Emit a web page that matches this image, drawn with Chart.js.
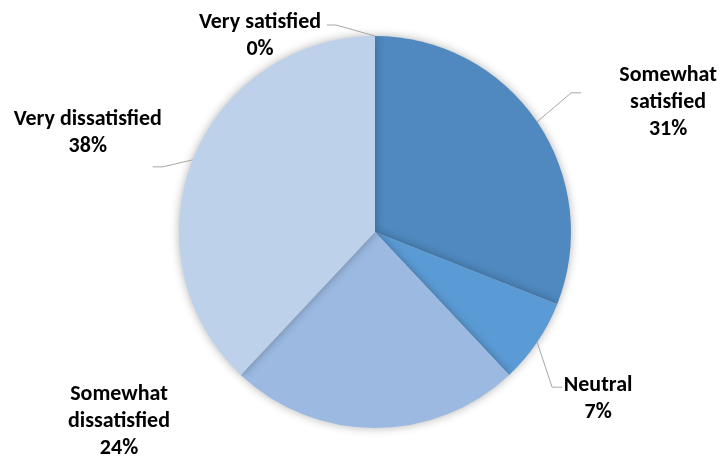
<!DOCTYPE html>
<html>
<head>
<meta charset="utf-8">
<script src="https://cdn.jsdelivr.net/npm/chart.js@4"></script>
<style>
  html, body { margin: 0; padding: 0; background: #fff; }
  #wrap { width: 721px; height: 456px; position: relative; }
</style>
</head>
<body>
<div id="wrap"><canvas id="grafico" width="721" height="456"></canvas></div>
<script>
// Dados
var categorias = ['Very satisfied', 'Somewhat satisfied', 'Neutral', 'Somewhat dissatisfied', 'Very dissatisfied'];
var percentagens = [0, 31, 7, 24, 38];
var cores = ['#3F6FA0', '#4F89BF', '#5B9BD5', '#9BB9E1', '#BDD1EA'];

// Rótulos (quebra de linha) e posição relativa ao ponto na borda da fatia
var linhasRotulo = [
    ['Very satisfied'],
    ['Somewhat', 'satisfied'],
    ['Neutral'],
    ['Somewhat', 'dissatisfied'],
    ['Very dissatisfied']
];
// cotovelo, fim da linha guia e centro da 1a linha do texto (dx, dy) a partir da borda
var guias = [
    { cotovelo: [-39, -11], fim: [-48, -11], texto: [-115, -14], linha: true },
    { cotovelo: [34, -29], fim: [44, -29], texto: [131, -46], linha: true },
    { cotovelo: [15, 45], fim: [25, 45], texto: [61, 43], linha: true },
    { cotovelo: [0, 0], fim: [0, 0], texto: [-256, -34], linha: false },
    { cotovelo: [-30, 7], fim: [-40, 7], texto: [-105, -40], linha: true }
];

var rotulosPlugin = {
    id: 'rotulos',
    afterDatasetsDraw: function(chart) {
        var ctx = chart.ctx;
        var meta = chart.getDatasetMeta(0);
        ctx.save();
        ctx.font = 'bold 22px Carlito, Lato, "Open Sans", sans-serif';
        ctx.textAlign = 'center';
        ctx.textBaseline = 'middle';
        meta.data.forEach(function(arc, i) {
            var p = arc.getProps(['x', 'y', 'startAngle', 'endAngle', 'outerRadius'], true);
            var meio = (p.startAngle + p.endAngle) / 2;
            var bx = p.x + Math.cos(meio) * p.outerRadius;
            var by = p.y + Math.sin(meio) * p.outerRadius;
            var g = guias[i];
            if (g.linha) {
                ctx.strokeStyle = '#A6A6A6';
                ctx.lineWidth = 1;
                ctx.beginPath();
                ctx.moveTo(bx, by);
                ctx.lineTo(bx + g.cotovelo[0], by + g.cotovelo[1]);
                ctx.lineTo(bx + g.fim[0], by + g.fim[1]);
                ctx.stroke();
            }
            var linhas = linhasRotulo[i].concat([percentagens[i] + '%']);
            var tx = bx + g.texto[0];
            var ty = by + g.texto[1];
            var alt = 27;
            ctx.fillStyle = '#000';
            linhas.forEach(function(l, k) {
                ctx.fillText(l, tx, ty + k * alt);
            });
        });
        ctx.restore();
    }
};

var sombraPlugin = {
    id: 'sombra',
    beforeDatasetDraw: function(chart) {
        var ctx = chart.ctx;
        ctx.save();
        ctx.shadowColor = 'rgba(0,0,0,0.3)';
        ctx.shadowBlur = 10;
        ctx.shadowOffsetX = 0;
        ctx.shadowOffsetY = 0;
    },
    afterDatasetDraw: function(chart) {
        chart.ctx.restore();
    }
};

var grafico = new Chart(document.getElementById('grafico'), {
    type: 'pie',
    data: {
        labels: categorias,
        datasets: [{
            data: percentagens,
            backgroundColor: cores,
            borderWidth: 0
        }]
    },
    options: {
        responsive: false,
        animation: false,
        layout: { padding: { top: 36, bottom: 28, left: 29, right: 0 } },
        plugins: {
            legend: { display: false },
            tooltip: { enabled: false }
        }
    },
    plugins: [sombraPlugin, rotulosPlugin]
});
</script>
</body>
</html>
